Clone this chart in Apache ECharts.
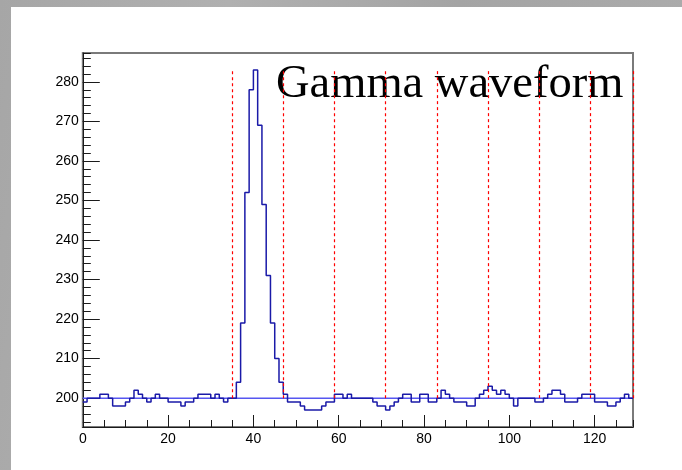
<!DOCTYPE html>
<html><head><meta charset="utf-8">
<script src="https://cdn.jsdelivr.net/npm/echarts@6/dist/echarts.min.js"></script>
<style>
html,body{margin:0;padding:0;width:682px;height:470px;overflow:hidden;background:#a9a9a9;}
body{background:linear-gradient(100deg,#a6a6a6 0%,#b0b0b0 30%,#a4a4a4 60%,#adadad 100%);}
#paper{position:absolute;left:11px;top:7px;width:671px;height:463px;background:#fff;}
#chart{position:absolute;left:0;top:0;width:682px;height:470px;}
</style></head><body>
<div id="paper"></div><div id="chart"></div>
<script>
// ADC value per sample bin (bins 0..128, width 1)
const adcValues = [
  199,200,200,200,201,201,200,198,198,198,
  199,200,202,201,200,199,200,201,200,200,
  199,199,199,198,199,199,200,201,201,201,
  200,201,200,199,200,200,204,219,252,278,
  283,269,249,231,219,210,204,201,199,199,
  199,198,197,197,197,197,198,199,199,201,
  201,200,201,200,200,200,200,200,199,198,
  198,197,198,199,200,201,201,199,199,201,
  201,199,199,200,202,201,200,199,199,199,
  198,198,200,201,202,203,202,201,202,201,
  200,198,200,200,200,200,199,199,200,201,
  202,202,201,199,199,199,200,201,201,201,
  199,199,199,198,198,199,200,201,200
];
const windowEdges = [35, 47, 59, 71, 83, 95, 107, 119, 129];
const baselineLevel = [200];
const windowTop = [283];
const xRange = [0, 129];
const yRange = [192.7, 287.3];
const xTickLabels = [0, 20, 40, 60, 80, 100, 120];
const yTickLabels = [200, 210, 220, 230, 240, 250, 260, 270, 280];
const titleText = 'Gamma waveform';

const histData = adcValues.map((v, i) => [i, v]);
histData.push([adcValues.length, adcValues[adcValues.length - 1]]);

const axisColor = '#1a1a1a';
const labelFont = {fontFamily: 'Liberation Sans', fontSize: 14, color: '#000'};

const chart = echarts.init(document.getElementById('chart'), null, {renderer: 'canvas'});
chart.setOption({
  animation: false,
  title: {
    text: titleText, left: 276, top: 61, padding: 0,
    textStyle: {fontFamily: 'Liberation Serif', fontSize: 46.5, fontWeight: 'normal', color: '#000'}
  },
  grid: {left: 82.8, top: 53, right: 49, bottom: 43, show: true, borderColor: '#7a7a7a', borderWidth: 2,
    backgroundColor: 'transparent', containLabel: false, outerBoundsMode: 'none'},
  xAxis: [
    {type: 'value', min: xRange[0], max: xRange[1], interval: 20, position: 'bottom',
     axisLine: {onZero: false, lineStyle: {color: axisColor, width: 1}},
     axisTick: {inside: true, length: 12, lineStyle: {color: axisColor, width: 1}},
     axisLabel: Object.assign({margin: 5, showMaxLabel: false,
       formatter: v => xTickLabels.includes(v) ? String(v) : ''}, labelFont),
     splitLine: {show: false}},
    {type: 'value', min: xRange[0], max: xRange[1], interval: 5, position: 'bottom',
     axisLine: {show: false, onZero: false},
     axisTick: {inside: true, length: 7, lineStyle: {color: axisColor, width: 1}},
     axisLabel: {show: false}, splitLine: {show: false}}
  ],
  yAxis: [
    {type: 'value', min: yRange[0], max: yRange[1], splitNumber: 9, minInterval: 10, maxInterval: 10,
     position: 'left',
     axisLine: {show: true, onZero: false, lineStyle: {color: axisColor, width: 1}},
     axisTick: {show: true, inside: true, length: 17, lineStyle: {color: axisColor, width: 1}},
     axisLabel: Object.assign({margin: 4, showMinLabel: false, showMaxLabel: false,
       formatter: v => yTickLabels.includes(v) ? String(v) : ''}, labelFont),
     splitLine: {show: false}},
    {type: 'value', min: yRange[0], max: yRange[1], splitNumber: 47, minInterval: 2, maxInterval: 2,
     position: 'left',
     axisLine: {show: false, onZero: false},
     axisTick: {show: true, inside: true, length: 8, lineStyle: {color: axisColor, width: 1}},
     axisLabel: {show: false}, splitLine: {show: false}}
  ],
  series: [
    {type: 'line', name: 'baseline', xAxisIndex: 0, yAxisIndex: 0, symbol: 'none', silent: true, z: 1,
     data: [[xRange[0], baselineLevel[0]], [xRange[1], baselineLevel[0]]],
     lineStyle: {color: '#5656f0', width: 1.5}},
    {type: 'line', name: 'waveform', xAxisIndex: 0, yAxisIndex: 0, symbol: 'none', step: 'end', z: 3,
     clip: false,
     data: histData, lineStyle: {color: '#1a1aa8', width: 1.5},
     markLine: {silent: true, z: 10, symbol: ['none', 'none'], label: {show: false},
       lineStyle: {color: '#ff0000', type: [3, 3], width: 1.2},
       emphasis: {disabled: true},
       data: windowEdges.map(x => [{coord: [x, baselineLevel[0]]}, {coord: [x, windowTop[0]]}])}}
  ]
});
</script>
</body></html>
